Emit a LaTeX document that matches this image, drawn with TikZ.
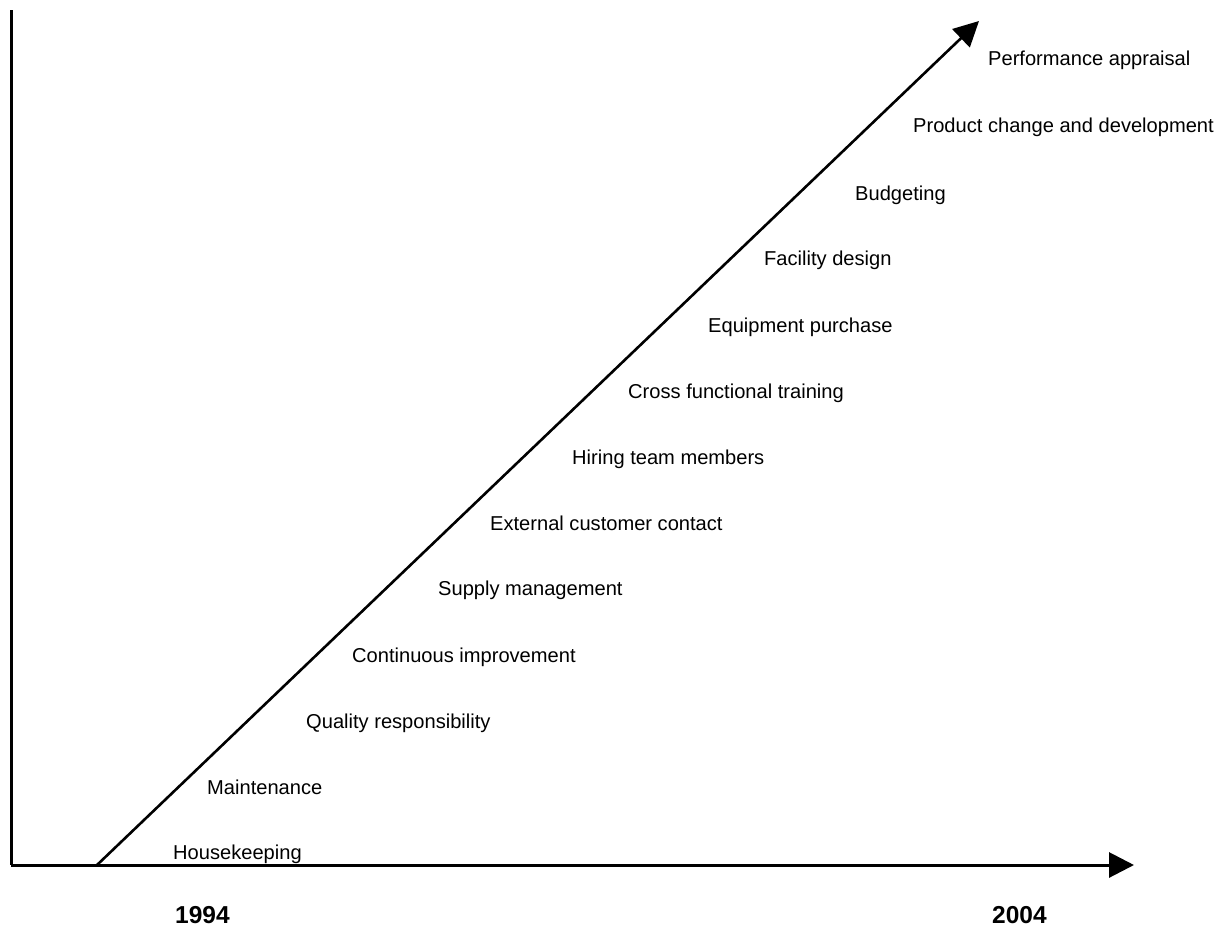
\documentclass[tikz,border=0pt]{standalone}
\usepackage{fontspec}
\setmainfont{Liberation Sans}
\usetikzlibrary{arrows.meta}
\begin{document}
\begin{tikzpicture}[x=1pt,y=-1pt,
  axis/.style={line width=3pt,line cap=butt},
  trend/.style={line width=2.6pt,-{Triangle[length=25pt,width=25pt]}},
  task/.style={anchor=base west,inner sep=0pt,font=\fontsize{20.1}{23}\selectfont},
  yearlbl/.style={anchor=base west,inner sep=0pt,font=\fontsize{24.5}{28}\selectfont\bfseries}]
\useasboundingbox (0,0) rectangle (1224,927);
% axes
\coordinate (top) at (11,10);
\coordinate (origin) at (11,865);
\coordinate (xend) at (1134,865);
\coordinate (start) at (97,865);
\coordinate (tip) at (979,21);
\draw[axis] (top) -- (origin);
\draw[axis,-{Triangle[length=25pt,width=25pt]}] (origin) -- (xend);
% growth line
\draw[trend] (start) -- (tip);
% responsibilities taken on over time
\node[task] (t1) at (988,65) {Performance appraisal};
\node[task] (t2) at (913,132) {Product change and development};
\node[task] (t3) at (855,200) {Budgeting};
\node[task] (t4) at (764,265) {Facility design};
\node[task] (t5) at (708,332) {Equipment purchase};
\node[task] (t6) at (628,398) {Cross functional training};
\node[task] (t7) at (572,464) {Hiring team members};
\node[task] (t8) at (490,530) {External customer contact};
\node[task] (t9) at (438,595) {Supply management};
\node[task] (t10) at (352,662) {Continuous improvement};
\node[task] (t11) at (306,728) {Quality responsibility};
\node[task] (t12) at (207,794) {Maintenance};
\node[task] (t13) at (173,859) {Housekeeping};
% years
\node[yearlbl] (y1) at (175,923) {1994};
\node[yearlbl] (y2) at (992,923) {2004};
\end{tikzpicture}
\end{document}
